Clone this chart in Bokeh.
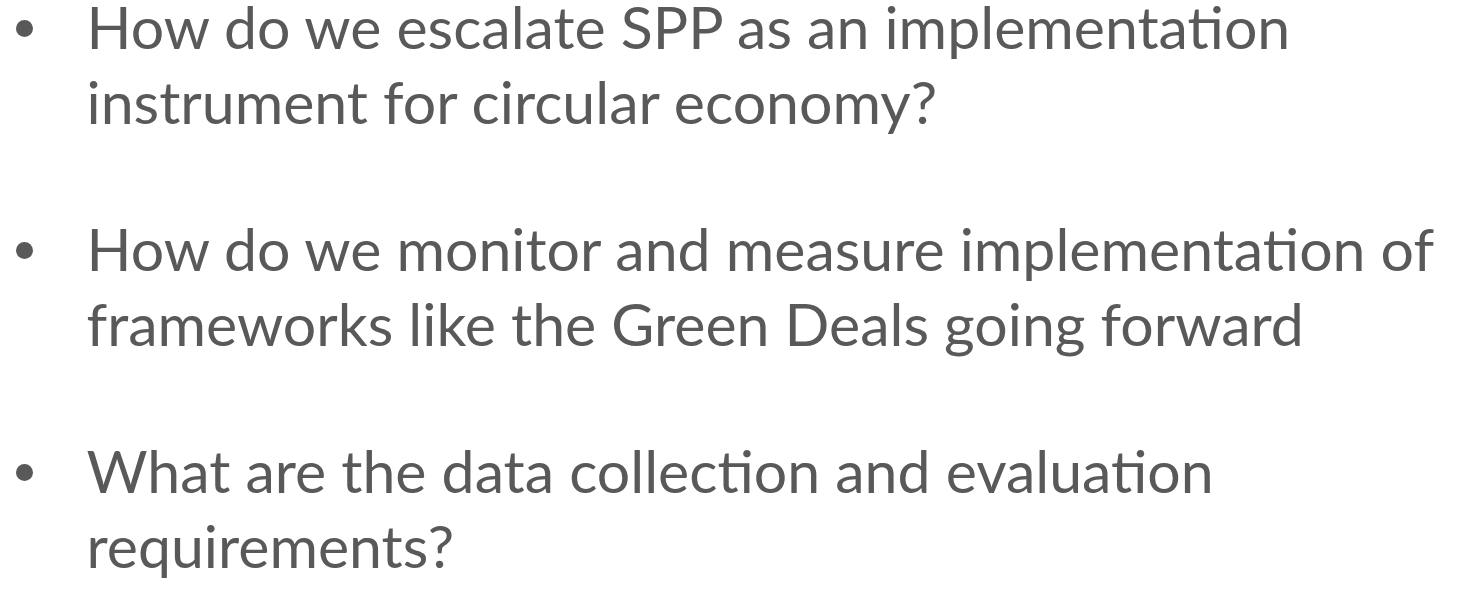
from bokeh.plotting import figure
from bokeh.models import Range1d
from bokeh.core.properties import value
from bokeh.embed import file_html
from bokeh.resources import INLINE

# Slide content: each bullet is a list of wrapped lines
bullet_1 = ["How do we escalate SPP as an implementation",
            "instrument for circular economy?"]
bullet_2 = ["How do we monitor and measure implementation of",
            "frameworks like the Green Deals going forward"]
bullet_3 = ["What are the data collection and evaluation",
            "requirements?"]
bullets = [bullet_1, bullet_2, bullet_3]

W, H = 1442, 580
TEXT_COLOR = "#595959"
FONT = "Lato"
FONT_SIZE = "59px"

first_baseline = 26      # baseline anchor of first line (plot coords)
bullet_gap = 222         # distance between bullet first lines
line_gap = 75            # line spacing within a bullet
text_x = 86
bullet_x = 24
bullet_dy = 2

p = figure(width=W, height=H, output_backend="svg", toolbar_location=None,
           x_range=Range1d(0, W), y_range=Range1d(H, 0),
           min_border=0, min_border_left=0, min_border_right=0,
           min_border_top=0, min_border_bottom=0)
p.axis.visible = False
p.grid.visible = False
p.outline_line_color = None
p.background_fill_color = "white"
p.border_fill_color = "white"

xs, ys, texts = [], [], []
bx, by = [], []
for bi, lines in enumerate(bullets):
    y0 = first_baseline + bi * bullet_gap
    bx.append(bullet_x)
    by.append(y0 + bullet_dy)
    for li, line in enumerate(lines):
        xs.append(text_x)
        ys.append(y0 + li * line_gap)
        texts.append(line)

p.text(x=xs, y=ys, text=texts, text_font=value(FONT), text_font_size=FONT_SIZE,
       text_color=TEXT_COLOR, text_align="left", text_baseline="alphabetic")
p.scatter(x=bx, y=by, size=17, marker="circle", fill_color=TEXT_COLOR, line_color=None)

open("out.html", "w").write(file_html(p, INLINE))
